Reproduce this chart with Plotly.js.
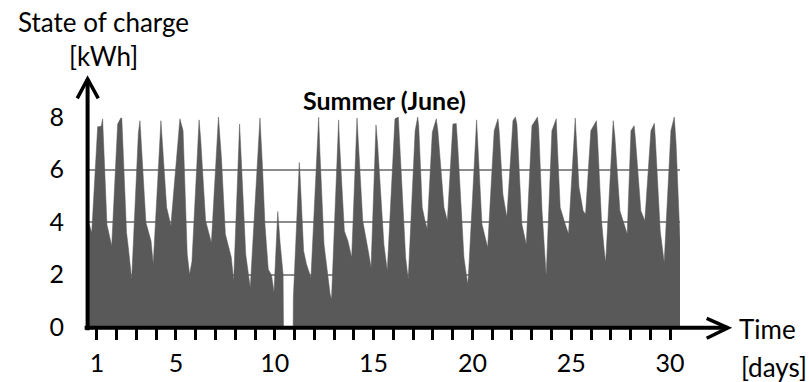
<!DOCTYPE html>
<html>
<head>
<meta charset="utf-8">
<script src="https://cdn.plot.ly/plotly-3.0.1.min.js"></script>
<style>
  html, body { margin: 0; padding: 0; background: #ffffff; }
  #chart { width: 809px; height: 382px; }
</style>
</head>
<body>
<div id="chart"></div>
<script>
// Time in days since start of June, state of charge in kWh (breakpoints)
var timeDays = [
  0, 0.12, 0.24, 0.54, 0.72, 0.79, 1.01, 1.25,
  1.55, 1.71, 1.76, 2.0, 2.09, 2.26,
  2.6, 2.68, 2.98, 3.24, 3.35,
  3.74, 4.03, 4.25, 4.28,
  4.7, 4.86, 5.07, 5.19, 5.31,
  5.67, 5.75, 6.0, 6.29, 6.31,
  6.65, 6.8, 7.0, 7.3, 7.42,
  7.72, 7.8, 8.03, 8.26,
  8.75, 8.88, 9.0, 9.17, 9.34, 9.46,
  9.65, 9.77, 9.92, 9.94, 10.43, 10.44,
  10.74, 10.78, 10.96, 11.1, 11.33,
  11.72, 11.78, 11.99, 12.3, 12.37,
  12.73, 12.77, 13.02, 13.2, 13.39,
  13.66, 13.95, 14.23, 14.37,
  14.62, 14.7, 15.02, 15.19,
  15.58, 15.75, 16.12, 16.25,
  16.6, 16.73, 16.78, 16.96, 17.1, 17.21,
  17.47, 17.67, 17.75, 18.06, 18.23,
  18.51, 18.68, 18.75, 19.07, 19.26, 19.3,
  19.71, 19.98, 20.27,
  20.6, 20.79, 20.85, 21.04, 21.24,
  21.55, 21.67, 21.75, 22.0, 22.22,
  22.51, 22.79, 22.85, 23.02, 23.15, 23.23,
  23.52, 23.74, 23.79, 23.94, 24.19, 24.36,
  24.7, 24.89, 25.1, 25.22,
  25.49, 25.77, 25.82, 26.03, 26.17, 26.24,
  26.62, 26.7, 26.96, 27.21, 27.33,
  27.52, 27.68, 27.74, 28.02, 28.22,
  28.53, 28.7, 28.75, 29.0, 29.2,
  29.54, 29.71, 29.8, 30.0
];
var stateOfCharge = [
  4.1, 3.9, 3.6, 7.63, 7.65, 7.93, 3.9, 3.09,
  7.73, 7.96, 7.96, 3.6, 3.03, 1.82,
  7.4, 7.86, 3.98, 3.28, 2.4,
  7.86, 4.55, 3.85, 4.2,
  7.93, 7.48, 2.77, 2.0, 2.5,
  7.89, 7.16, 4.05, 3.22, 3.45,
  8.0, 6.46, 3.54, 2.65, 1.76,
  7.73, 6.46, 2.77, 1.5,
  7.96, 6.08, 3.93, 2.2, 1.96, 1.32,
  4.4, 3.2, 2.0, 0, 0, 1.12,
  6.27, 5.76, 2.9, 2.4, 1.88,
  7.99, 6.72, 3.15, 1.25, 1.06,
  7.89, 7.1, 3.66, 3.28, 2.65,
  7.96, 4.05, 2.9, 2.26,
  7.7, 7.0, 3.15, 2.14,
  7.93, 8.0, 2.65, 1.82,
  7.48, 8.0, 7.7, 4.55, 4.05, 3.73,
  7.42, 7.93, 7.48, 4.55, 4.05,
  7.73, 7.75, 6.97, 2.65, 1.63, 2.0,
  7.89, 3.92, 3.03,
  7.48, 7.93, 7.48, 5.06, 4.17,
  7.86, 8.0, 7.73, 3.92, 3.15,
  7.67, 8.0, 7.6, 4.43, 2.9, 1.95,
  7.48, 7.93, 7.0, 4.55, 3.92, 3.54,
  7.96, 5.32, 4.43, 4.3,
  7.48, 7.86, 7.3, 4.05, 2.9, 2.46,
  7.86, 7.3, 4.43, 3.79, 3.54,
  7.48, 7.67, 7.2, 4.43, 4.05,
  7.48, 7.76, 7.2, 3.66, 2.46,
  7.48, 8.0, 7.0, 3.3
];
var dayNumbers = [];
for (var d = 1; d <= 30; d++) dayNumbers.push(d);
var labeledDays = [1, 5, 10, 15, 20, 25, 30];
var yTickValues = [0, 2, 4, 6, 8];

var tickVals = dayNumbers.map(function (n) { return n - 0.5; });
var tickText = dayNumbers.map(function (n) { return labeledDays.indexOf(n) >= 0 ? String(n) : ''; });

var FONT = 'Lato, "Open Sans", sans-serif';

var trace = {
  x: timeDays,
  y: stateOfCharge,
  type: 'scatter',
  mode: 'lines',
  fill: 'tozeroy',
  fillcolor: '#595959',
  line: { color: '#595959', width: 0.5 },
  hoverinfo: 'skip'
};

var layout = {
  width: 809,
  height: 382,
  margin: { l: 87, r: 129, t: 117, b: 55, pad: 0 },
  paper_bgcolor: '#ffffff',
  plot_bgcolor: '#ffffff',
  showlegend: false,
  xaxis: {
    range: [0, 30],
    tickvals: tickVals,
    ticktext: tickText,
    ticks: 'outside',
    ticklen: 12,
    tickwidth: 3,
    tickcolor: '#000000',
    showgrid: false,
    zeroline: false,
    showline: false,
    ticklabelstandoff: 2,
    tickfont: { family: FONT, size: 25, color: '#000000' },
    fixedrange: true
  },
  yaxis: {
    range: [0, 8],
    tickvals: yTickValues,
    ticks: '',
    showgrid: true,
    gridcolor: '#8c8c8c',
    gridwidth: 2,
    zeroline: false,
    showline: false,
    ticklabelstandoff: 22,
    tickfont: { family: FONT, size: 25, color: '#000000' },
    fixedrange: true
  },
  shapes: [
    // y axis with arrow
    { type: 'line', xref: 'paper', yref: 'paper', x0: 0.001, x1: 0.001, y0: -0.015, y1: 1.18,
      line: { color: '#000000', width: 4 } },
    { type: 'path', xref: 'paper', yref: 'paper',
      path: 'M -0.0164 1.089 L 0.001 1.181 L 0.019 1.089',
      line: { color: '#000000', width: 3.5 } },
    // x axis with arrow
    { type: 'line', xref: 'paper', yref: 'paper', x0: -0.004, x1: 1.08, y0: -0.004, y1: -0.004,
      line: { color: '#000000', width: 4 } },
    { type: 'path', xref: 'paper', yref: 'paper',
      path: 'M 1.045 0.0414 L 1.081 -0.004 L 1.045 -0.0538',
      line: { color: '#000000', width: 3.5 } }
  ],
  annotations: [
    { text: 'State of charge', xref: 'paper', yref: 'paper', x: 0.027, y: 1.452,
      xanchor: 'center', yanchor: 'middle', showarrow: false,
      font: { family: FONT, size: 26, color: '#000000' } },
    { text: '[kWh]', xref: 'paper', yref: 'paper', x: 0.027, y: 1.29,
      xanchor: 'center', yanchor: 'middle', showarrow: false,
      font: { family: FONT, size: 26, color: '#000000' } },
    { text: '<b>Summer (June)</b>', xref: 'paper', yref: 'paper', x: 0.501, y: 1.081,
      xanchor: 'center', yanchor: 'middle', showarrow: false,
      font: { family: FONT, size: 25, color: '#000000' } },
    { text: 'Time', xref: 'paper', yref: 'paper', x: 1.096, y: -0.0095,
      xanchor: 'left', yanchor: 'middle', showarrow: false,
      font: { family: FONT, size: 26, color: '#000000' } },
    { text: '[days]', xref: 'paper', yref: 'paper', x: 1.099, y: -0.19,
      xanchor: 'left', yanchor: 'middle', showarrow: false,
      font: { family: FONT, size: 26, color: '#000000' } }
  ]
};

Plotly.newPlot('chart', [trace], layout, { displayModeBar: false, staticPlot: true });
</script>
</body>
</html>
